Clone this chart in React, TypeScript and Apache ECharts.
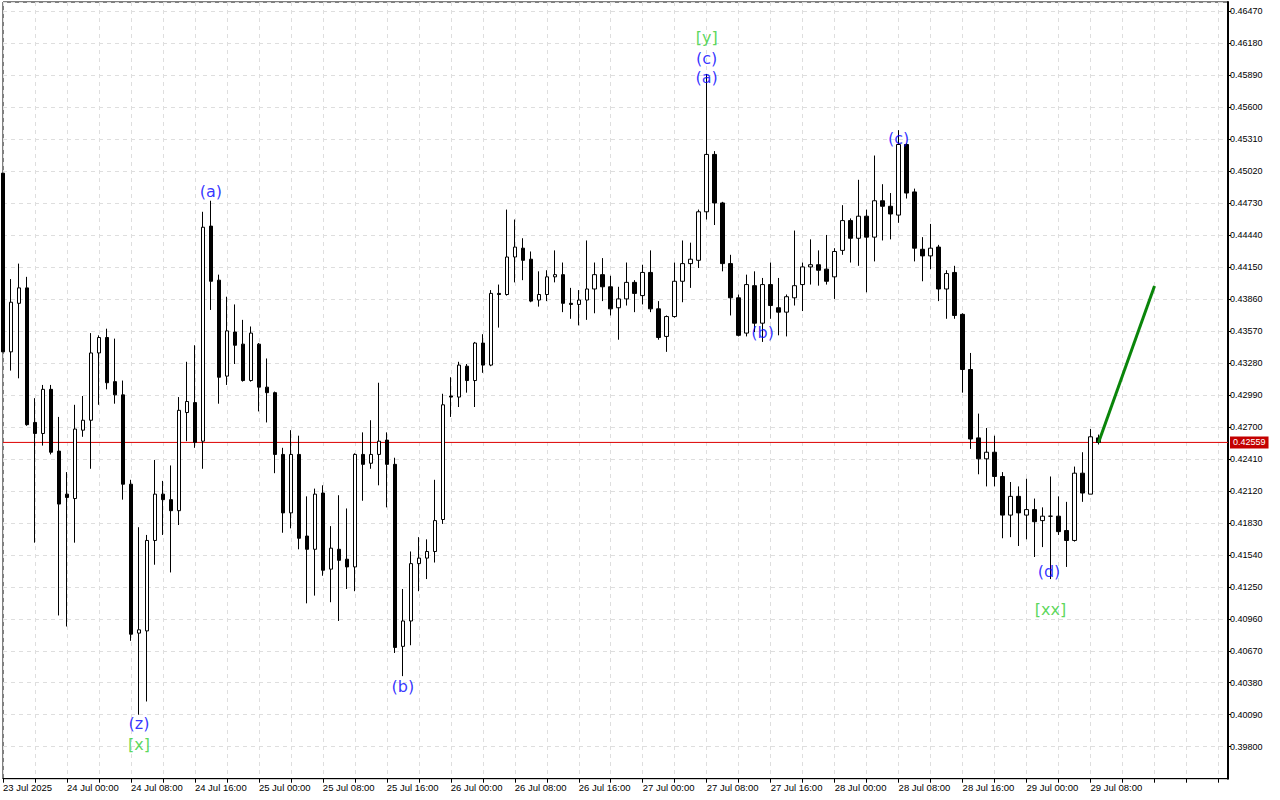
import React, { useEffect, useRef } from 'react';
import * as echarts from 'echarts';

// Time labels every 8 hourly candles
const timeLabels = [
  '23 Jul 2025', '24 Jul 00:00', '24 Jul 08:00', '24 Jul 16:00', '25 Jul 00:00', '25 Jul 08:00',
  '25 Jul 16:00', '26 Jul 00:00', '26 Jul 08:00', '26 Jul 16:00', '27 Jul 00:00', '27 Jul 08:00',
  '27 Jul 16:00', '28 Jul 00:00', '28 Jul 08:00', '28 Jul 16:00', '29 Jul 00:00', '29 Jul 08:00',
];

// Hourly candles: [open, close, low, high]
const candles: number[][] = [
  [0.4500, 0.4338, 0.4338, 0.4500], [0.4338, 0.4383, 0.4321, 0.4404], [0.4382, 0.4396, 0.4314, 0.4418],
  [0.4396, 0.4272, 0.4271, 0.4406], [0.4274, 0.4264, 0.4165, 0.4296], [0.4264, 0.4304, 0.4253, 0.4308],
  [0.4304, 0.4247, 0.4245, 0.4308], [0.4248, 0.4200, 0.4099, 0.4279], [0.4209, 0.4206, 0.4089, 0.4229],
  [0.4205, 0.4268, 0.4165, 0.4290], [0.4267, 0.4276, 0.4261, 0.4298], [0.4276, 0.4337, 0.4232, 0.4355],
  [0.4337, 0.4351, 0.4290, 0.4353], [0.4351, 0.4310, 0.4304, 0.4359], [0.4311, 0.4299, 0.4291, 0.4350],
  [0.4299, 0.4218, 0.4204, 0.4312], [0.4218, 0.4082, 0.4076, 0.4222], [0.4083, 0.4086, 0.4009, 0.4179],
  [0.4085, 0.4167, 0.4021, 0.4172], [0.4167, 0.4209, 0.4145, 0.4240], [0.4209, 0.4204, 0.4172, 0.4221],
  [0.4204, 0.4194, 0.4138, 0.4235], [0.4194, 0.4285, 0.4181, 0.4297], [0.4283, 0.4293, 0.4257, 0.4329],
  [0.4292, 0.4256, 0.4251, 0.4344], [0.4257, 0.4451, 0.4232, 0.4465], [0.4452, 0.4402, 0.4376, 0.4475],
  [0.4403, 0.4315, 0.4291, 0.4408], [0.4316, 0.4357, 0.4308, 0.4388], [0.4356, 0.4344, 0.4327, 0.4381],
  [0.4345, 0.4312, 0.4311, 0.4367], [0.4312, 0.4355, 0.4311, 0.4361], [0.4345, 0.4306, 0.4284, 0.4346],
  [0.4306, 0.4301, 0.4274, 0.4332], [0.4301, 0.4245, 0.4228, 0.4302], [0.4245, 0.4192, 0.4174, 0.4251],
  [0.4192, 0.4245, 0.4178, 0.4267], [0.4245, 0.4169, 0.4159, 0.4262], [0.4171, 0.4159, 0.4110, 0.4207],
  [0.4159, 0.4209, 0.4117, 0.4214], [0.4210, 0.4140, 0.4135, 0.4217], [0.4141, 0.4160, 0.4111, 0.4180],
  [0.4159, 0.4149, 0.4094, 0.4208], [0.4150, 0.4143, 0.4123, 0.4196], [0.4143, 0.4245, 0.4121, 0.4246],
  [0.4245, 0.4236, 0.4203, 0.4265], [0.4237, 0.4245, 0.4232, 0.4276], [0.4245, 0.4257, 0.4217, 0.4310],
  [0.4258, 0.4236, 0.4197, 0.4265], [0.4236, 0.4070, 0.4065, 0.4242], [0.4071, 0.4094, 0.4044, 0.4123],
  [0.4094, 0.4146, 0.4072, 0.4157], [0.4146, 0.4151, 0.4121, 0.4170], [0.4151, 0.4157, 0.4132, 0.4168],
  [0.4157, 0.4185, 0.4147, 0.4222], [0.4186, 0.4290, 0.4182, 0.4300], [0.4298, 0.4297, 0.4279, 0.4315],
  [0.4297, 0.4326, 0.4288, 0.4329], [0.4325, 0.4312, 0.4301, 0.4327], [0.4312, 0.4346, 0.4288, 0.4347],
  [0.4346, 0.4326, 0.4319, 0.4354], [0.4326, 0.4391, 0.4325, 0.4394], [0.4391, 0.4390, 0.4360, 0.4399],
  [0.4390, 0.4424, 0.4389, 0.4467], [0.4424, 0.4433, 0.4401, 0.4458], [0.4432, 0.4421, 0.4403, 0.4441],
  [0.4422, 0.4384, 0.4383, 0.4429], [0.4385, 0.4390, 0.4379, 0.4411], [0.4390, 0.4406, 0.4384, 0.4412],
  [0.4406, 0.4408, 0.4401, 0.4430], [0.4408, 0.4382, 0.4374, 0.4419], [0.4382, 0.4381, 0.4368, 0.4396],
  [0.4381, 0.4385, 0.4362, 0.4394], [0.4385, 0.4395, 0.4367, 0.4439], [0.4395, 0.4408, 0.4373, 0.4419],
  [0.4408, 0.4397, 0.4384, 0.4423], [0.4397, 0.4377, 0.4371, 0.4407], [0.4378, 0.4386, 0.4349, 0.4397],
  [0.4386, 0.4401, 0.4380, 0.4419], [0.4401, 0.4391, 0.4374, 0.4403], [0.4389, 0.4410, 0.4381, 0.4417],
  [0.4410, 0.4377, 0.4374, 0.4430], [0.4377, 0.4351, 0.4349, 0.4384], [0.4352, 0.4370, 0.4338, 0.4371],
  [0.4370, 0.4402, 0.4369, 0.4419], [0.4402, 0.4418, 0.4383, 0.4439], [0.4418, 0.4422, 0.4396, 0.4437],
  [0.4421, 0.4465, 0.4414, 0.4467], [0.4465, 0.4517, 0.4458, 0.4590], [0.4517, 0.4473, 0.4453, 0.4520],
  [0.4473, 0.4418, 0.4411, 0.4474], [0.4418, 0.4387, 0.4371, 0.4426], [0.4387, 0.4353, 0.4352, 0.4390],
  [0.4355, 0.4399, 0.4352, 0.4408], [0.4398, 0.4364, 0.4356, 0.4411], [0.4364, 0.4399, 0.4347, 0.4405],
  [0.4399, 0.4380, 0.4368, 0.4419], [0.4378, 0.4374, 0.4353, 0.4405], [0.4374, 0.4388, 0.4352, 0.4390],
  [0.4387, 0.4398, 0.4380, 0.4448], [0.4399, 0.4415, 0.4375, 0.4419], [0.4415, 0.4417, 0.4399, 0.4440],
  [0.4417, 0.4412, 0.4398, 0.4430], [0.4413, 0.4402, 0.4399, 0.4444], [0.4406, 0.4429, 0.4386, 0.4432],
  [0.4430, 0.4457, 0.4426, 0.4471], [0.4457, 0.4441, 0.4419, 0.4459], [0.4441, 0.4461, 0.4416, 0.4494],
  [0.4461, 0.4442, 0.4392, 0.4467], [0.4442, 0.4475, 0.4420, 0.4516], [0.4475, 0.4470, 0.4439, 0.4490],
  [0.4470, 0.4463, 0.4440, 0.4482], [0.4462, 0.4526, 0.4455, 0.4539], [0.4526, 0.4482, 0.4477, 0.4527],
  [0.4483, 0.4432, 0.4420, 0.4486], [0.4431, 0.4425, 0.4402, 0.4442], [0.4425, 0.4432, 0.4413, 0.4454],
  [0.4433, 0.4395, 0.4384, 0.4435], [0.4395, 0.4409, 0.4368, 0.4412], [0.4410, 0.4371, 0.4368, 0.4416],
  [0.4372, 0.4322, 0.4301, 0.4373], [0.4322, 0.4259, 0.4250, 0.4337], [0.4260, 0.4241, 0.4227, 0.4282],
  [0.4241, 0.4247, 0.4216, 0.4269], [0.4247, 0.4225, 0.4216, 0.4262], [0.4225, 0.4190, 0.4169, 0.4229],
  [0.4190, 0.4207, 0.4170, 0.4220], [0.4207, 0.4192, 0.4162, 0.4216], [0.4190, 0.4195, 0.4168, 0.4223],
  [0.4195, 0.4184, 0.4152, 0.4205], [0.4185, 0.4189, 0.4161, 0.4197], [0.4189, 0.4189, 0.4132, 0.4225],
  [0.4189, 0.4175, 0.4172, 0.4207], [0.4176, 0.4167, 0.4143, 0.4202], [0.4167, 0.4228, 0.4166, 0.4234],
  [0.4228, 0.4210, 0.4202, 0.4247], [0.4209, 0.4261, 0.4209, 0.4268], [0.4260, 0.42559, 0.4254, 0.4263],
];

const lastPrice = 0.42559;

// Forecast arrow (candle index, price)
const forecastIdx = [137, 144];
const forecastPrice = [0.42559, 0.43977];

// Wave labels
const waveTexts = ['(a)', '(z)', '[x]', '(b)', '[y]', '(c)', '(a)', '(b)', '(c)', '(d)', '[xx]'];
const waveIdx = [26, 17, 17, 50, 88, 88, 88, 95, 112, 130.8, 131];
const wavePrices = [0.44838, 0.40015, 0.39816, 0.40350, 0.46234, 0.46044, 0.45872, 0.43551, 0.45310, 0.41393, 0.41048];

const X_MAX = 153.19;

export default function App() {
  const ref = useRef<HTMLDivElement>(null);
  useEffect(() => {
    document.body.style.margin = '0';
    const chart = echarts.init(ref.current!, null, { renderer: 'svg' });
    const font = '"Liberation Sans", Arial, sans-serif';
    const gridLine = { show: true, lineStyle: { color: '#dedede', type: [4, 4] as any, width: 1 } };
    chart.setOption({
      animation: false,
      backgroundColor: '#ffffff',
      grid: {
        left: 2.5, right: 52, top: 2, bottom: 21.3,
        show: true, borderColor: '#000', borderWidth: 1, backgroundColor: 'transparent',
      },
      xAxis: {
        type: 'value', min: 0, max: X_MAX, interval: 4,
        axisLine: { show: true, onZero: false, lineStyle: { color: '#000', width: 1 } },
        axisTick: { show: true, length: 4, lineStyle: { color: '#000' } },
        axisLabel: {
          color: '#000', fontSize: 9.5, fontFamily: font, align: 'left', margin: 4,
          showMinLabel: true, showMaxLabel: false,
          formatter: (v: number) => {
            const r = Math.round(v);
            if (Math.abs(v - r) > 0.01 || r % 8 !== 0) return '';
            return timeLabels[r / 8] ?? '';
          },
        },
        splitLine: gridLine,
      },
      yAxis: {
        type: 'value', position: 'right', min: 0.3951, max: 0.46552, interval: 0.0029,
        axisLine: { show: true, onZero: false, lineStyle: { color: '#000', width: 2 } },
        axisTick: { show: true, length: 3, lineStyle: { color: '#000' } },
        axisLabel: {
          color: '#000', fontSize: 9, fontFamily: font, margin: 2,
          showMinLabel: false, showMaxLabel: false,
          formatter: (v: number) => v.toFixed(5),
        },
        splitLine: gridLine,
      },
      series: [
        {
          type: 'line',
          data: [[0, lastPrice], [X_MAX, lastPrice]],
          symbol: 'none',
          silent: true,
          clip: false,
          lineStyle: { color: '#dd0000', width: 1 },
          z: 1,
          endLabel: {
            show: true, formatter: lastPrice.toFixed(5), distance: 2,
            color: '#ffffff', backgroundColor: '#c40000', padding: [2, 3, 1, 3],
            fontSize: 9, fontFamily: font,
          },
        },
        {
          type: 'candlestick',
          data: candles.map((c, i) => [i, c[0], c[1], c[2], c[3]]),
          encode: { x: 0, y: [1, 2, 3, 4] },
          barWidth: 4,
          z: 2,
          itemStyle: {
            color: '#ffffff', color0: '#000000',
            borderColor: '#000000', borderColor0: '#000000', borderWidth: 1,
          },
        },
        {
          type: 'line',
          data: forecastIdx.map((x, i) => [x, forecastPrice[i]]),
          symbol: 'none',
          lineStyle: { color: '#0a850a', width: 3 },
          z: 5,
        },
        {
          type: 'scatter',
          symbolSize: 1,
          itemStyle: { color: 'transparent' },
          data: waveTexts.map((t, i) => ({
            value: [waveIdx[i], wavePrices[i]],
            label: {
              show: true, position: 'inside', formatter: t,
              color: t.startsWith('[') ? '#32cd32' : '#0000ff',
              fontSize: 16, fontFamily: '"DejaVu Sans", sans-serif',
            },
          })),
          z: 6,
        },
      ],
    });
    return () => chart.dispose();
  }, []);
  return <div ref={ref} style={{ width: 1280, height: 800 }} />;
}
